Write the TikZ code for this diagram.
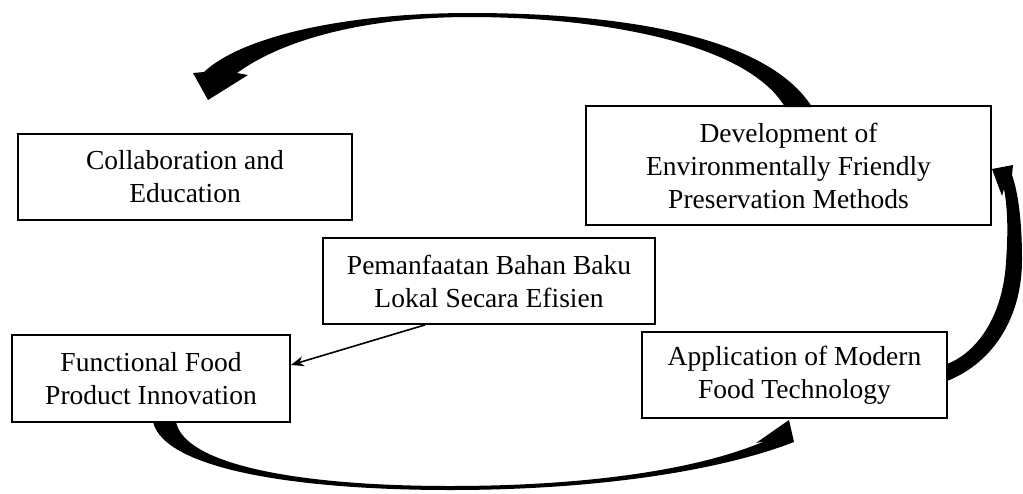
\documentclass[tikz,border=0pt]{standalone}
\usepackage{fontspec}
\setmainfont{Liberation Serif}
\usetikzlibrary{arrows.meta}
\begin{document}
\begin{tikzpicture}[x=1pt,y=-1pt,
  box/.style={draw, line width=1.8pt, align=center, inner sep=0pt, font=\fontsize{27.5}{33}\selectfont},
  fat/.style={fill=black, draw=none},
  thin/.style={line width=1.6pt, -{Stealth[length=13pt,width=10pt]}}]
\useasboundingbox (0,0) rectangle (1023,493);
\node[box, minimum width=334pt, minimum height=86pt] (collab) at (185,177) {Collaboration and\\Education};
\node[box, minimum width=405pt, minimum height=119pt] (dev) at (788.5,165.5) {Development of\\Environmentally Friendly\\Preservation Methods};
\node[box, minimum width=332pt, minimum height=86pt] (pem) at (489,281) {Pemanfaatan Bahan Baku\\Lokal Secara Efisien};
\node[box, minimum width=278pt, minimum height=87pt] (func) at (151,378.5) {Functional Food\\Product Innovation};
\node[box, minimum width=305pt, minimum height=86pt] (app) at (794.5,375) {Application of Modern\\Food Technology};
\coordinate (ps) at ([xshift=-64pt]pem.south);
\coordinate (fe) at ([yshift=13.5pt]func.east);
\draw[thin] (ps) -- (fe);
% top arrow: dev -> collab
\fill[fat] (812,107) .. controls (760,25) and (580,13) .. (470,13)
  .. controls (340,13) and (240,38) .. (204,72)
  -- (193,73) -- (208,100) -- (248,75) -- (237,73)
  .. controls (285,38) and (370,17) .. (470,17)
  .. controls (590,17) and (745,40) .. (785,107) -- cycle;
% bottom arrow: func -> app
\fill[fat] (153,422) .. controls (165,470) and (300,490) .. (450,490)
  .. controls (600,490) and (722,470) .. (794,442)
  -- (789,420) -- (756,443) -- (765,441)
  .. controls (700,469) and (590,486) .. (450,486)
  .. controls (300,486) and (185,465) .. (176,422) -- cycle;
% right arrow: app -> dev
\fill[fat] (947,381) .. controls (995,362) and (1022,315) .. (1022,260)
  .. controls (1022,220) and (1018,192) .. (1012,175)
  -- (1013,165) -- (992,169) -- (1002,196) -- (1004,189)
  .. controls (1008,210) and (1008,235) .. (1006,262)
  .. controls (1003,315) and (978,352) .. (947,364) -- cycle;
\end{tikzpicture}
\end{document}
